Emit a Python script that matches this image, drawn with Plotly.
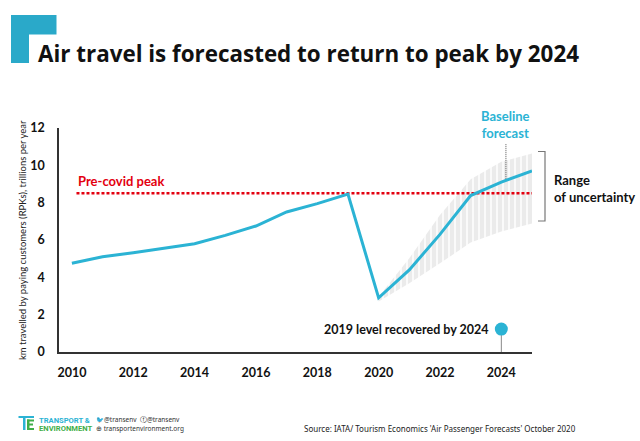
import plotly.graph_objects as go

# ---- data ----
hist_years = [2010, 2011, 2012, 2013, 2014, 2015, 2016, 2017, 2018, 2019]
hist_rpk = [4.75, 5.1, 5.32, 5.55, 5.8, 6.25, 6.75, 7.5, 7.95, 8.46]
fc_years = [2020, 2021, 2022, 2023, 2024, 2025]
fc_rpk = [2.9, 4.4, 6.3, 8.38, 9.1, 9.7]
band_upper = [2.96, 5.02, 7.34, 9.25, 10.19, 10.64]
band_lower = [2.7, 3.68, 4.75, 5.86, 6.45, 6.89]
precovid_peak = 8.5
recovery_year = 2024
recovery_marker_y = 1.23
baseline_pointer_x = 2024.15
baseline_pointer_y = [9.15, 11.14]
x_ticks = [2010, 2012, 2014, 2016, 2018, 2020, 2022, 2024]
y_ticks = [0, 2, 4, 6, 8, 10, 12]

CYAN = "#2bb3d4"
RED = "#e3000f"
FONT = "Lato"

years = hist_years + fc_years
rpk = hist_rpk + fc_rpk

fig = go.Figure()

# uncertainty band (striped)
fig.add_trace(go.Scatter(x=fc_years, y=band_lower, mode="lines",
                         line=dict(width=0, color="rgba(0,0,0,0)"),
                         hoverinfo="skip", showlegend=False))
fig.add_trace(go.Scatter(x=fc_years, y=band_upper, mode="lines",
                         line=dict(width=0, color="rgba(0,0,0,0)"),
                         fill="tonexty", fillcolor="rgba(0,0,0,0)",
                         fillpattern=dict(shape="|", fgcolor="#d8d8d8", bgcolor="white",
                                          size=6, solidity=0.75),
                         hoverinfo="skip", showlegend=False))

# pre-covid peak line
fig.add_trace(go.Scatter(x=[2010.15, years[-1]], y=[precovid_peak, precovid_peak],
                         mode="lines", line=dict(color=RED, width=2.5, dash="3px,2px"),
                         hoverinfo="skip", showlegend=False))

# recovery stem and marker
fig.add_trace(go.Scatter(x=[recovery_year, recovery_year], y=[0, recovery_marker_y],
                         mode="lines", line=dict(color="#888888", width=1),
                         hoverinfo="skip", showlegend=False))
fig.add_trace(go.Scatter(x=[recovery_year], y=[recovery_marker_y], mode="markers",
                         marker=dict(color=CYAN, size=13), cliponaxis=False,
                         hoverinfo="skip", showlegend=False))

# baseline pointer
fig.add_trace(go.Scatter(x=[baseline_pointer_x, baseline_pointer_x], y=baseline_pointer_y,
                         mode="lines", line=dict(color="#555555", width=1, dash="1px,1px"),
                         hoverinfo="skip", showlegend=False))

# main line
fig.add_trace(go.Scatter(x=years, y=rpk, mode="lines",
                         line=dict(color=CYAN, width=3), cliponaxis=False,
                         hoverinfo="skip", showlegend=False))

W, H = 640, 441
L, R, T, B = 59, 108, 128, 89
pw = W - L - R

def px(xp):
    return (xp - L) / pw

def py(yp):
    return (H - B - yp) / (H - T - B)

shapes = [
    # top-left logo
    dict(type="path", xref="paper", yref="paper", layer="above",
         path=("M {0},{1} L {2},{1} L {2},{3} L {4},{3} L {4},{5} L {0},{5} Z".format(
             px(12.5), py(16.5), px(55), py(33), px(27.5), py(61.5))),
         fillcolor="#2aa9c9", line=dict(width=3, color="#2aa9c9")),
    # bracket
    dict(type="path", xref="paper", yref="paper",
         path="M {0},{1} L {2},{1} L {2},{3} L {0},{3}".format(
             px(538), py(151.5), px(545), py(221)),
         line=dict(color="#777777", width=1.2)),
    # footer TE icon
    dict(type="rect", xref="paper", yref="paper", x0=px(18.5), x1=px(34), y0=py(416), y1=py(418),
         fillcolor=CYAN, line=dict(width=0)),
    dict(type="rect", xref="paper", yref="paper", x0=px(23), x1=px(25.5), y0=py(418), y1=py(430),
         fillcolor=CYAN, line=dict(width=0)),
    dict(type="rect", xref="paper", yref="paper", x0=px(27), x1=px(29.5), y0=py(419.5), y1=py(430),
         fillcolor="#3fae49", line=dict(width=0)),
    dict(type="rect", xref="paper", yref="paper", x0=px(27), x1=px(34), y0=py(419.5), y1=py(421.5),
         fillcolor="#3fae49", line=dict(width=0)),
    dict(type="rect", xref="paper", yref="paper", x0=px(27), x1=px(33), y0=py(423.5), y1=py(425.5),
         fillcolor="#3fae49", line=dict(width=0)),
    dict(type="rect", xref="paper", yref="paper", x0=px(27), x1=px(34), y0=py(428), y1=py(430),
         fillcolor="#3fae49", line=dict(width=0)),
]

def pann(text, x, y, size, color="#111111", xanchor="left", yanchor="middle", bold=False,
         family=FONT, align="left"):
    if bold:
        text = "<b>" + text + "</b>"
    return dict(text=text, xref="paper", yref="paper", x=px(x), y=py(y), showarrow=False,
                xanchor=xanchor, yanchor=yanchor, align=align,
                font=dict(size=size, color=color, family=family))

annotations = [
    pann("Air travel is forecasted to return to peak by 2024", 36, 53, 22.4, "#111111",
         bold=True, family="Open Sans"),
    dict(text="<b>Pre-covid peak</b>", x=2010.15, y=precovid_peak, xref="x", yref="y",
         showarrow=False, xanchor="left", yanchor="bottom", yshift=2,
         font=dict(size=13, color=RED, family=FONT)),
    dict(text="<b>2019 level recovered by 2024</b>", x=recovery_year, y=recovery_marker_y,
         xref="x", yref="y", showarrow=False, xanchor="right", yanchor="middle", xshift=-10,
         font=dict(size=12.5, color="#111111", family=FONT)),
    dict(text="<b>Baseline<br>forecast</b>", x=baseline_pointer_x, y=baseline_pointer_y[1],
         xref="x", yref="y", showarrow=False, xanchor="center", yanchor="bottom", yshift=1,
         font=dict(size=13, color=CYAN, family=FONT)),
    pann("Range<br>of uncertainty", 552, 188, 13, "#111111", bold=True),
    pann("km travelled by paying customers (RPKs), trillions per year", 22, 240, 9.5, "#222222"),
    pann("<b>TRANSPORT &</b>", 37, 420, 7.6, CYAN, family="Roboto"),
    pann("<b>ENVIRONMENT</b>", 37, 428, 7.6, "#3fae49", family="Roboto"),
    pann("🐦@transenv  ⓕ@transenv", 94, 419.5, 6.5, "#333333", family="Noto Sans"),
    pann("⊕ transportenvironment.org", 94, 428, 6.5, "#333333", family="Noto Sans"),
    pann("Source: IATA/ Tourism Economics 'Air Passenger Forecasts' October 2020", 578, 428, 8,
         "#222222", xanchor="right", family="Noto Sans"),
]
# rotate y title
annotations[5].update(textangle=-90, xanchor="center")

fig.update_layout(
    width=W, height=H,
    margin=dict(l=L, r=R, t=T, b=B),
    paper_bgcolor="white", plot_bgcolor="white",
    font=dict(family=FONT, color="#111111"),
    showlegend=False,
    shapes=shapes,
    annotations=annotations,
    xaxis=dict(range=[2009.58, 2025.0], tickvals=x_ticks,
               ticktext=["<b>%d</b>" % v for v in x_ticks],
               showgrid=False, zeroline=False, showline=True, linecolor="#333333",
               linewidth=1.5, ticks="", tickfont=dict(size=12.5, color="#111111"),
               ticklabelstandoff=8),
    yaxis=dict(range=[0, 12], tickvals=y_ticks,
               ticktext=["<b>%d</b>" % v for v in y_ticks],
               showgrid=False, zeroline=False, showline=True, linecolor="#333333",
               linewidth=1.5, ticks="", tickfont=dict(size=12.5, color="#111111"),
               ticklabelstandoff=10),
)

fig.write_html("out.html", config={"displayModeBar": False},
               post_script="document.body.style.margin='0';")
